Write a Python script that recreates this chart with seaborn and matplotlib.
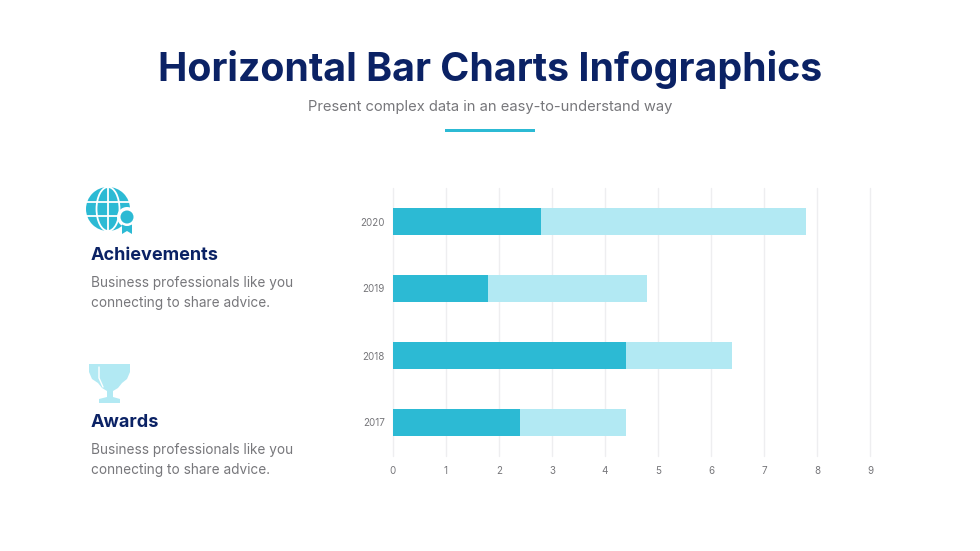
import matplotlib
matplotlib.use('Agg')
import matplotlib.pyplot as plt
from matplotlib.patches import Circle, Ellipse, Polygon, Rectangle
import pandas as pd
import seaborn as sns

years = ['2020', '2019', '2018', '2017']
dark_values = [2.8, 1.8, 4.4, 2.4]
light_values = [5.0, 3.0, 2.0, 2.0]
x_ticks = [0, 1, 2, 3, 4, 5, 6, 7, 8, 9]

TEAL = '#2cbad4'
LIGHT = '#b2e9f3'
NAVY = '#0b2265'
GREY = '#77777b'

sns.set_theme(style='white')
plt.rcParams['font.family'] = ['Inter', 'DejaVu Sans']

W, H = 980, 551
fig = plt.figure(figsize=(W / 100, H / 100), dpi=100, facecolor='white')

# full figure overlay in pixel coords for the slide text and icons
bg = fig.add_axes([0, 0, 1, 1])
bg.set_xlim(0, W)
bg.set_ylim(H, 0)
bg.axis('off')

bg.text(490, 69.5, 'Horizontal Bar Charts Infographics', ha='center', va='center',
        fontsize=28.3, fontweight='bold', color=NAVY)
bg.text(490, 107, 'Present complex data in an easy-to-understand way', ha='center',
        va='center', fontsize=10.6, color=GREY)
bg.add_patch(Rectangle((445, 128.5), 90, 3, color=TEAL, lw=0))

# left text blocks
body = 'Business professionals like you\nconnecting to share advice.'
bg.text(91, 255.5, 'Achievements', va='center', fontsize=13, fontweight='bold', color=NAVY)
bg.text(91, 293, body, va='center', fontsize=9.8, color=GREY, linespacing=1.6)
bg.text(91, 422.5, 'Awards', va='center', fontsize=13, fontweight='bold', color=NAVY)
bg.text(91, 460, body, va='center', fontsize=9.8, color=GREY, linespacing=1.6)

# globe icon
bg.add_patch(Circle((108, 209), 22, color=TEAL, lw=0, zorder=1))
bg.add_patch(Ellipse((108, 209), 23, 44, fill=False, ec='white', lw=1.3, zorder=2))
bg.plot([108, 108], [187, 231], color='white', lw=1.3, zorder=2)
bg.plot([86, 130], [202, 202], color='white', lw=1.3, zorder=2)
bg.plot([86, 130], [216, 216], color='white', lw=1.3, zorder=2)
bg.add_patch(Circle((127, 217), 10, color='white', lw=0, zorder=3))
bg.add_patch(Polygon([(122, 224), (132, 224), (132, 234), (127, 231), (122, 234)],
                     color=TEAL, lw=0, zorder=4))
bg.add_patch(Circle((127, 217), 9, color='white', lw=0, zorder=5))
bg.add_patch(Circle((127, 217), 6.5, color=TEAL, lw=0, zorder=6))

# trophy icon
bg.add_patch(Polygon([(89, 364), (130, 364), (130, 372), (127, 379), (122, 383), (118, 388),
                      (113, 391), (113, 397), (120, 399), (120, 403), (99, 403), (99, 399),
                      (107, 397), (107, 391), (102, 388), (98, 383), (92, 379), (89, 372)],
                     color=LIGHT, lw=0))
bg.plot([99, 99, 103], [367, 378, 387], color='white', lw=1)

# chart
df = pd.DataFrame({'year': years, 'dark': dark_values, 'light': light_values})
df['total'] = df['dark'] + df['light']

ax = fig.add_axes([393 / W, 1 - 456 / H, (870 - 393) / W, (456 - 188) / H])
ax.patch.set_alpha(0)
sns.barplot(data=df, y='year', x='total', color=LIGHT, width=0.405, saturation=1, linewidth=0, ax=ax)
sns.barplot(data=df, y='year', x='dark', color=TEAL, width=0.405, saturation=1, linewidth=0, ax=ax)
ax.set_xlim(0, 9)
ax.set_xticks(x_ticks)
ax.set_xlabel('')
ax.set_ylabel('')
ax.grid(axis='x', color='#eeeef0', lw=1)
for line in ax.get_xgridlines():
    line.set_clip_on(False)
ax.set_axisbelow(True)
sns.despine(ax=ax, left=True, bottom=True)
ax.tick_params(axis='both', length=0, labelsize=7.1, labelcolor=GREY)
ax.tick_params(axis='x', pad=7)
ax.tick_params(axis='y', pad=6)

fig.savefig('out.png', dpi=100)
